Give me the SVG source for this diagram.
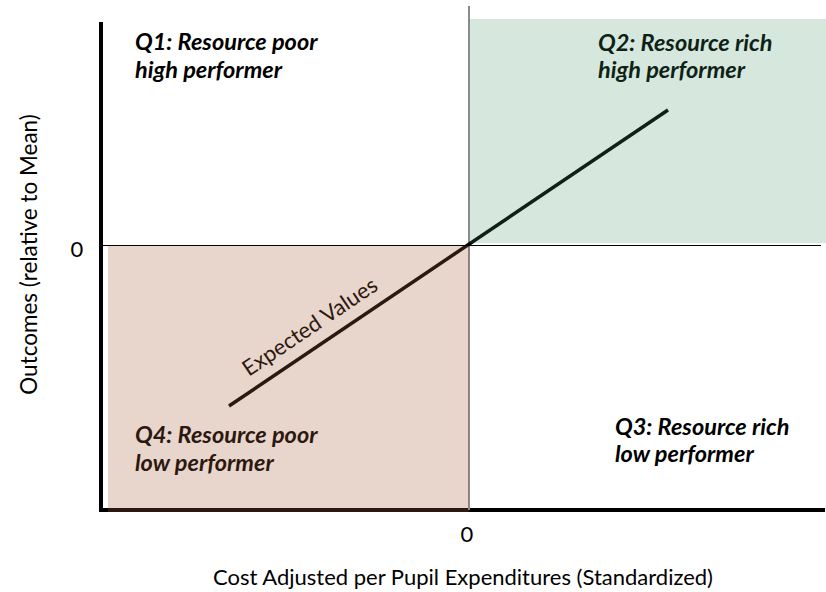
<svg xmlns="http://www.w3.org/2000/svg" width="826" height="592" viewBox="0 0 826 592">
  <style>
    .lbl { font-family: Lato, "Liberation Sans", sans-serif; font-size: 22px; fill: #000; }
    .quad { font-family: Lato, "Liberation Sans", sans-serif; font-size: 23.5px; font-weight: bold; font-style: italic; fill: #000; }
    .axis { stroke: #000; stroke-width: 4; fill: none; }
    .mid { stroke: #000; stroke-width: 1; fill: none; }
  </style>
  <rect x="0" y="0" width="826" height="592" fill="#ffffff"/>

  <!-- axes and zero lines -->
  <g id="axes">
    <line class="axis" x1="101" y1="22" x2="101" y2="512"/>
    <line class="axis" x1="99" y1="510" x2="825" y2="510"/>
    <line x1="469" y1="6" x2="469" y2="510" stroke="#8a8a8a" stroke-width="2"/>
    <line class="mid" x1="101" y1="245.5" x2="821" y2="245.5"/>
  </g>

  <!-- expected values trend line -->
  <g id="connectors">
    <line x1="229" y1="406" x2="668" y2="110" stroke="#000" stroke-width="3.5"/>
  </g>

  <!-- quadrant labels -->
  <g id="q1">
    <text class="quad" x="135" y="50">Q1: Resource poor</text>
    <text class="quad" x="135" y="78">high performer</text>
  </g>
  <g id="q2">
    <text class="quad" x="598" y="51">Q2: Resource rich</text>
    <text class="quad" x="598" y="78">high performer</text>
  </g>
  <g id="q3">
    <text class="quad" x="615" y="435">Q3: Resource rich</text>
    <text class="quad" x="615" y="462">low performer</text>
  </g>
  <g id="q4">
    <text class="quad" x="135" y="443">Q4: Resource poor</text>
    <text class="quad" x="135" y="471">low performer</text>
  </g>

  <g id="expected-label">
    <text class="lbl" text-anchor="middle" transform="translate(314 333) rotate(-34)">Expected Values</text>
  </g>

  <!-- tinted quadrant fills laid over the lines and labels -->
  <g id="fills">
    <rect x="470" y="19" width="356" height="224" fill="rgb(69,150,105)" fill-opacity="0.22"/>
    <rect x="108" y="246" width="361" height="266" fill="rgb(165,95,60)" fill-opacity="0.26"/>
  </g>

  <!-- axis labels -->
  <g id="x-axis-labels">
    <text class="lbl" x="467" y="542" text-anchor="middle">0</text>
    <text class="lbl" x="463" y="585" text-anchor="middle">Cost Adjusted per Pupil Expenditures (Standardized)</text>
  </g>
  <g id="y-axis-labels">
    <text class="lbl" x="77" y="257" text-anchor="middle">0</text>
    <text class="lbl" text-anchor="middle" style="font-size:22.5px" transform="translate(37 254.5) rotate(-90)">Outcomes (relative to Mean)</text>
  </g>
</svg>
